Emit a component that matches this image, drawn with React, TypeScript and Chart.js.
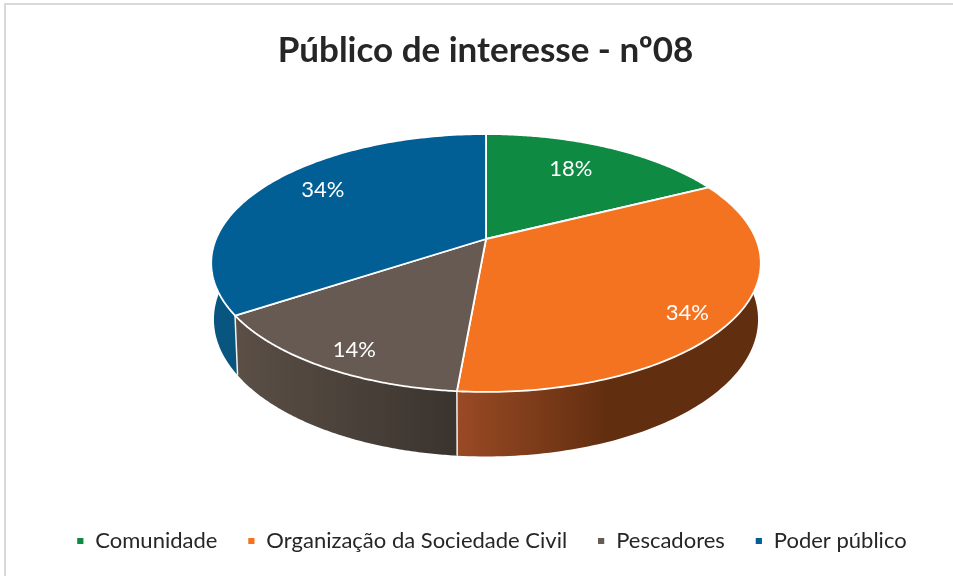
import React, { useEffect, useRef } from "react";
import { Chart, registerables } from "chart.js";

Chart.register(...registerables);

const categories = ["Comunidade", "Organização da Sociedade Civil", "Pescadores", "Poder público"];
const shares = [17.6, 33.8, 14.3, 34.3];
const percentLabels = ["18%", "34%", "14%", "34%"];
const topColors = ["#0e8a43", "#f47321", "#675a52", "#015f95"];
const wallLeftColors = ["#0a5c2d", "#9a4a24", "#5b4f46", "#07567f"];
const wallRightColors = ["#0a5c2d", "#622e10", "#3a342e", "#07507a"];
const labelRadii = [0.72, 0.86, 0.87, 0.78];
const labelShiftDeg = [-2.5, 4.5, -2, 5];

const TITLE = "Público de interesse - nº08";
const FONT = "Lato";

// Perspective camera for the tilted disc
const CX = 486;
const CY = 239;
const RX = 270;
const RY = 124.5;
const PERSP = 0.186;
const BASE_DROP = 55;
const BASE_SX = 0.99;
const BASE_SY = 1.062;

type P = [number, number];
const project = (theta: number, r = 1): [number, number] => {
  // theta measured clockwise from the top of the disc
  const u = r * Math.sin(theta);
  const v = -r * Math.cos(theta);
  const w = 1 - PERSP * v;
  return [u / w, v / w];
};
const topPoint = (theta: number, r = 1): P => {
  const [U, V] = project(theta, r);
  return [CX + RX * U, CY + RY * V];
};
const basePoint = (theta: number): P => {
  const [U, V] = project(theta);
  return [CX + RX * BASE_SX * U, CY + BASE_DROP + RY * BASE_SY * V];
};

const STEPS = 120;
const sweep = (a: number, b: number, fn: (t: number) => P): P[] => {
  const pts: P[] = [];
  for (let i = 0; i <= STEPS; i++) pts.push(fn(a + ((b - a) * i) / STEPS));
  return pts;
};

const disc3d = {
  id: "disc3d",
  afterLayout(chart: any) {
    // the legend sits a little right of the title in the reference
    const legend = chart.legend;
    legend.left += 6;
    legend.right += 6;
  },
  beforeDraw(chart: any) {
    const ctx = chart.ctx;
    ctx.save();
    ctx.fillStyle = "#ffffff";
    ctx.fillRect(0, 0, chart.width, chart.height);
    ctx.fillStyle = "#d9d9d9";
    ctx.fillRect(4, 3, chart.width - 4, 2);
    ctx.fillRect(4, 3, 2, chart.height - 3);
    ctx.restore();
  },
  beforeDatasetDraw(chart: any, args: any) {
    const ctx = chart.ctx;
    const arcs = args.meta.data;
    const angles = arcs.map((el: any) => [el.startAngle + Math.PI / 2, el.endAngle + Math.PI / 2]);

    ctx.save();
    // side walls
    arcs.forEach((el: any, i: number) => {
      const [a, b] = angles[i];
      const top = sweep(a, b, topPoint);
      const base = sweep(a, b, basePoint);
      const xs = top.map((p) => p[0]);
      let x0 = Math.min(...xs);
      let x1 = Math.max(...xs);
      if (i === 1) x1 = x0 + 150;
      const grad = ctx.createLinearGradient(x0, 0, x1, 0);
      grad.addColorStop(0, wallLeftColors[i]);
      grad.addColorStop(1, wallRightColors[i]);
      ctx.beginPath();
      top.forEach((p, k) => (k ? ctx.lineTo(p[0], p[1]) : ctx.moveTo(p[0], p[1])));
      base.reverse().forEach((p) => ctx.lineTo(p[0], p[1]));
      ctx.closePath();
      ctx.fillStyle = grad;
      ctx.fill();
    });
    // wall separators on the near side only
    ctx.strokeStyle = "#f4f1ee";
    ctx.lineWidth = 1.5;
    angles.forEach(([a]: number[]) => {
      const [, V] = project(a);
      if (V > 0.3) {
        const t = topPoint(a);
        const b = basePoint(a);
        ctx.beginPath();
        ctx.moveTo(t[0], t[1]);
        ctx.lineTo(b[0], b[1]);
        ctx.stroke();
      }
    });
    // top faces
    arcs.forEach((el: any, i: number) => {
      const [a, b] = angles[i];
      ctx.beginPath();
      ctx.moveTo(CX, CY);
      sweep(a, b, topPoint).forEach((p) => ctx.lineTo(p[0], p[1]));
      ctx.closePath();
      ctx.fillStyle = el.options.backgroundColor;
      ctx.fill();
      ctx.strokeStyle = "#ffffff";
      ctx.lineWidth = el.options.borderWidth;
      ctx.lineJoin = "round";
      ctx.stroke();
    });
    // percent labels
    ctx.fillStyle = "#ffffff";
    ctx.font = `22px ${FONT}`;
    ctx.textAlign = "center";
    ctx.textBaseline = "middle";
    arcs.forEach((el: any, i: number) => {
      const [a, b] = angles[i];
      const mid = (a + b) / 2 + (labelShiftDeg[i] * Math.PI) / 180;
      const p = topPoint(mid, labelRadii[i]);
      ctx.fillText(percentLabels[i], p[0], p[1]);
    });
    ctx.restore();
    return false; // the faces above replace the flat arcs
  },
};

export default function App() {
  const ref = useRef<HTMLCanvasElement>(null);
  useEffect(() => {
    const chart = new Chart(ref.current as HTMLCanvasElement, {
      type: "pie",
      data: {
        labels: categories,
        datasets: [
          {
            data: shares,
            backgroundColor: topColors,
            borderColor: "#ffffff",
            borderWidth: 1.8,
          },
        ],
      },
      options: {
        responsive: false,
        animation: false,
        layout: { padding: { left: 18, right: 0, top: 0, bottom: 14 } },
        plugins: {
          tooltip: { enabled: false },
          title: {
            display: true,
            text: TITLE,
            color: "#262626",
            font: { family: FONT, size: 35, weight: "bold" },
            padding: { top: 30, bottom: 16 },
          },
          legend: {
            position: "bottom",
            labels: {
              color: "#262626",
              font: { family: FONT, size: 22 },
              boxWidth: 8,
              boxHeight: 8,
              padding: 30,
            },
          },
        },
      },
      plugins: [disc3d],
    } as any);
    return () => chart.destroy();
  }, []);
  return (
    <canvas
      ref={ref}
      width={953}
      height={576}
      style={{ position: "absolute", left: 0, top: 0, display: "block" }}
    />
  );
}
